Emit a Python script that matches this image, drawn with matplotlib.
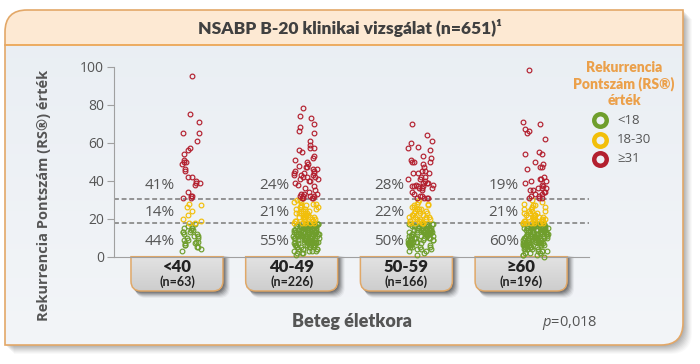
import numpy as np
import matplotlib
matplotlib.use("Agg")
import matplotlib.pyplot as plt
from matplotlib.path import Path
from matplotlib.patches import PathPatch

# ---------------- data ----------------
categories = ["<40", "40-49", "50-59", "≥60"]
n_labels = ["(n=63)", "(n=226)", "(n=166)", "(n=196)"]
pct_high = ["41%", "24%", "28%", "19%"]
pct_mid = ["14%", "21%", "22%", "21%"]
pct_low = ["44%", "55%", "50%", "60%"]

green_lt40 = [17, 16, 16, 15, 15, 14, 14, 13, 13, 13, 12, 12, 11, 11, 10, 10, 9, 9,
              8, 8, 7, 7, 6, 6, 5, 5, 4, 3]
yellow_lt40 = [28, 27, 26, 24, 22, 20, 19, 18, 18]
red_lt40 = [95, 75, 71, 65, 65, 61, 57, 56, 54, 51, 50, 50, 49, 46, 45, 42, 42, 40,
            39, 39, 38, 34, 32, 32, 31, 31]

green_40_49 = [17, 17, 17, 17, 17, 17, 17, 17, 17, 16, 16, 16, 16, 16, 16, 16, 16, 16, 16,
               15, 15, 15, 15, 15, 15, 15, 15, 15, 15, 14, 14, 14, 14, 14, 14, 14, 14, 14, 14,
               13, 13, 13, 13, 13, 13, 13, 13, 13, 13, 12, 12, 12, 12, 12, 12, 12, 12, 12,
               11, 11, 11, 11, 11, 11, 11, 11, 11, 10, 10, 10, 10, 10, 10, 10, 10, 10,
               9, 9, 9, 9, 9, 9, 9, 9, 8, 8, 8, 8, 8, 8, 8, 8, 7, 7, 7, 7, 7, 7, 7,
               6, 6, 6, 6, 6, 6, 5, 5, 5, 5, 5, 5, 4, 4, 4, 4, 4, 3, 3, 3, 3, 2, 2, 2, 1]
yellow_40_49 = [30, 30, 29, 29, 28, 28, 27, 27, 26, 26, 26, 25, 25, 25, 24, 24, 24, 24,
                23, 23, 23, 23, 22, 22, 22, 22, 21, 21, 21, 21, 21, 20, 20, 20, 20, 20,
                19, 19, 19, 19, 19, 19, 18, 18, 18, 18, 18]
red_40_49 = [78, 74, 73, 70, 68, 66, 65, 61, 59, 57, 57, 56, 55, 53, 52, 51, 50, 49, 48,
             47, 47, 46, 46, 45, 45, 44, 44, 44, 43, 43, 43, 42, 42, 42, 41, 41, 40, 40,
             39, 38, 37, 36, 35, 34, 33, 33, 33, 32, 32, 32, 32, 31, 31, 31, 31]

green_50_59 = [17, 17, 17, 17, 17, 17, 16, 16, 16, 16, 16, 16, 16, 15, 15, 15, 15, 15, 15, 15,
               14, 14, 14, 14, 14, 14, 14, 13, 13, 13, 13, 13, 13, 13, 12, 12, 12, 12, 12, 12,
               11, 11, 11, 11, 11, 11, 10, 10, 10, 10, 10, 10, 9, 9, 9, 9, 9, 9,
               8, 8, 8, 8, 8, 7, 7, 7, 7, 7, 6, 6, 6, 6, 5, 5, 5, 5, 4, 4, 4, 3, 3, 2, 1]
yellow_50_59 = [30, 29, 28, 28, 27, 27, 26, 26, 25, 25, 25, 24, 24, 24, 23, 23, 23, 22, 22,
                22, 21, 21, 21, 21, 20, 20, 20, 20, 19, 19, 19, 19, 18, 18, 18, 18, 18]
red_50_59 = [70, 64, 61, 60, 58, 57, 56, 53, 52, 51, 50, 50, 50, 49, 47, 45, 45, 44, 44,
             44, 42, 42, 41, 41, 40, 39, 39, 39, 38, 38, 37, 37, 37, 37, 36, 36, 36, 35,
             34, 33, 32, 32, 31, 31, 31, 31]

green_ge60 = [17, 17, 17, 17, 17, 17, 17, 17, 16, 16, 16, 16, 16, 16, 16, 16, 16,
              15, 15, 15, 15, 15, 15, 15, 15, 15, 14, 14, 14, 14, 14, 14, 14, 14, 14,
              13, 13, 13, 13, 13, 13, 13, 13, 13, 12, 12, 12, 12, 12, 12, 12, 12,
              11, 11, 11, 11, 11, 11, 11, 11, 10, 10, 10, 10, 10, 10, 10, 10,
              9, 9, 9, 9, 9, 9, 9, 9, 8, 8, 8, 8, 8, 8, 8, 7, 7, 7, 7, 7, 7, 7,
              6, 6, 6, 6, 6, 6, 5, 5, 5, 5, 5, 5, 4, 4, 4, 4, 4, 3, 3, 3, 3, 2, 2, 2,
              1, 1, 1, 0]
yellow_ge60 = [30, 29, 28, 27, 27, 26, 26, 25, 25, 24, 24, 24, 23, 23, 23, 22, 22, 22, 22,
               21, 21, 21, 21, 20, 20, 20, 20, 20, 19, 19, 19, 19, 19, 19,
               18, 18, 18, 18, 18, 18, 18]
red_ge60 = [98, 71, 70, 67, 66, 65, 62, 55, 54, 54, 50, 49, 47, 47, 46, 42, 41, 41, 40, 40,
            39, 38, 37, 36, 36, 36, 35, 35, 34, 34, 33, 33, 32, 32, 31, 31, 31]

green_groups = [green_lt40, green_40_49, green_50_59, green_ge60]
yellow_groups = [yellow_lt40, yellow_40_49, yellow_50_59, yellow_ge60]
red_groups = [red_lt40, red_40_49, red_50_59, red_ge60]
cut_low, cut_high = 17.5, 30.5

legend_title = "Rekurrencia\nPontszám (RS®)\nérték"
legend_labels = ["<18", "18-30", "≥31"]
title = "NSABP B-20 klinikai vizsgálat (n=651)¹"
xlabel = "Beteg életkora"
ylabel = "Rekurrencia Pontszám (RS®) érték"

# ---------------- style ----------------
GREEN, YELLOW, RED = "#6f9e2c", "#f2bf0a", "#b3202f"
ORANGE = "#eba04a"
TXT = "#555555"
BOLDF = ["Lato", "DejaVu Sans"]
SANS = ["Open Sans", "DejaVu Sans"]
plt.rcParams["mathtext.fontset"] = "custom"
plt.rcParams["mathtext.it"] = "Open Sans:italic"
plt.rcParams["mathtext.rm"] = "Open Sans"

W, H = 700, 364
fig = plt.figure(figsize=(W / 100, H / 100), dpi=100)
fig.patch.set_facecolor("white")
bg = fig.add_axes([0, 0, 1, 1], zorder=0)
bg.set_xlim(0, W)
bg.set_ylim(H, 0)
bg.axis("off")

M, L, C3, CL = Path.MOVETO, Path.LINETO, Path.CURVE3, Path.CLOSEPOLY


def leaf_path(x0, y0, x1, y1, r, bottom_round=True):
    verts = [(x0, y0 + r), (x0, y0), (x0 + r, y0), (x1, y0)]
    codes = [M, C3, C3, L]
    if bottom_round:
        verts += [(x1, y1 - r), (x1, y1), (x1 - r, y1)]
        codes += [L, C3, C3]
    else:
        verts += [(x1, y1)]
        codes += [L]
    verts += [(x0, y1), (x0, y0 + r)]
    codes += [L, CL]
    return Path(verts, codes)


def box_path(x0, y0, x1, y1, r):
    verts = [(x0, y0), (x1, y0), (x1, y1 - r), (x1, y1), (x1 - r, y1),
             (x0 + r, y1), (x0, y1), (x0, y1 - r), (x0, y0)]
    codes = [M, L, L, C3, C3, L, C3, C3, CL]
    return Path(verts, codes)


fx0, fy0, fx1, fy1, fr = 5, 10, 683, 345, 22
for k, a in zip(range(9, 0, -1), np.linspace(0.03, 0.10, 9)):
    p = leaf_path(fx0 + k, fy0 + k, fx1 + k, fy1 + k, fr)
    bg.add_patch(PathPatch(p, facecolor="#555555", edgecolor="none", alpha=a))
frame = PathPatch(leaf_path(fx0, fy0, fx1, fy1, fr), facecolor="#edf1f5",
                  edgecolor="none")
bg.add_patch(frame)
grad = np.linspace(0, 1, 256).reshape(-1, 1)
cmap_bg = matplotlib.colors.LinearSegmentedColormap.from_list("b", ["#e9eef3", "#f3f5f8"])
im = bg.imshow(grad, extent=(fx0, fx1, fy1, fy0), cmap=cmap_bg, aspect="auto", zorder=1)
im.set_clip_path(frame)
tb = PathPatch(leaf_path(fx0, fy0, fx1, 45, fr, bottom_round=False), facecolor="#fde9d3",
               edgecolor="none", zorder=2)
bg.add_patch(tb)
bg.plot([fx0, fx1], [45, 45], color=ORANGE, lw=1.2, zorder=3)
bg.add_patch(PathPatch(leaf_path(fx0, fy0, fx1, fy1, fr), facecolor="none",
                       edgecolor="#e3a868", lw=1.2, zorder=4))
bg.text(350, 28, title, ha="center", va="center", fontsize=12.5, fontweight="heavy",
        color="#404040", family=BOLDF, zorder=5)

# ---------------- main axes ----------------
ax_l, ax_r, ax_b, ax_t = 114, 589, 256.7, 66.7
ax = fig.add_axes([ax_l / W, 1 - ax_b / H, (ax_r - ax_l) / W, (ax_b - ax_t) / H], zorder=2)
ax.patch.set_visible(False)
ax.set_ylim(0, 100)
ax.set_xlim(-0.549, 3.592)
for s in ["top", "right"]:
    ax.spines[s].set_visible(False)
ax.spines["left"].set_color("#a0a0a0")
ax.spines["bottom"].set_color("#a0a0a0")
ax.set_yticks([0, 20, 40, 60, 80, 100])
ax.set_xticks([])
ax.tick_params(axis="y", direction="out", length=5, color="#a0a0a0", labelsize=10,
               labelcolor=TXT, pad=2)
for t in ax.get_yticklabels():
    t.set_family(SANS)

for yv in (cut_low, cut_high):
    ax.axhline(yv, color="#7a7a7a", lw=1.1, ls=(0, (3.2, 1.8)), zorder=1)


def spread(k, v):
    # deterministic horizontal spread (layout only)
    h = np.sin(k * 12.9898 + v * 78.233) * 43758.5453
    return h - np.floor(h) - 0.5


for i in range(len(categories)):
    width = 0.18 if i == 0 else 0.22
    k0 = 0
    for vals, col in ((green_groups[i], GREEN), (yellow_groups[i], YELLOW),
                      (red_groups[i], RED)):
        v = np.asarray(vals, dtype=float)
        k = np.arange(k0, k0 + len(v)) + 7 * i
        off = spread(k, v) * width
        k0 += len(v)
        ax.plot(i + 0.125 + off, v, ls="none", marker="o", ms=3.4, mfc="none",
                mec=col, mew=0.85, zorder=3, clip_on=False)
    ax.text(i - 0.02, 37.5, pct_high[i], ha="right", va="center", fontsize=11,
            color=TXT, family=SANS)
    ax.text(i - 0.02, 23.5, pct_mid[i], ha="right", va="center", fontsize=11,
            color=TXT, family=SANS)
    ax.text(i - 0.02, 8.0, pct_low[i], ha="right", va="center", fontsize=11,
            color=TXT, family=SANS)

ax.set_ylabel(ylabel, fontsize=10.5, fontweight="bold", color=TXT, family=SANS)
ax.yaxis.set_label_coords(-0.132, 0.325)

# ---------------- category boxes ----------------
fig.canvas.draw()
cmap_box = matplotlib.colors.LinearSegmentedColormap.from_list("g", ["#e3e3e3", "#cdcdcd"])
for i, (cat, nl) in enumerate(zip(categories, n_labels)):
    cx = ax.transData.transform((i, 0))[0]
    bx0, bx1, by0, by1 = cx - 46, cx + 46, 256.7, 291
    for k, a in zip(range(7, 0, -1), np.linspace(0.05, 0.22, 7)):
        bg.add_patch(PathPatch(box_path(bx0 + k * 0.7, by0, bx1 + k, by1 + k, 10),
                               facecolor="#222222", edgecolor="none", alpha=a, zorder=5))
    bp = PathPatch(box_path(bx0, by0, bx1, by1, 10), facecolor="#d6d6d6",
                   edgecolor="none", zorder=6)
    bg.add_patch(bp)
    bim = bg.imshow(grad, extent=(bx0, bx1, by1, by0), cmap=cmap_box, aspect="auto", zorder=6)
    bim.set_clip_path(bp)
    bg.add_patch(PathPatch(box_path(bx0, by0, bx1, by1, 10), facecolor="none",
                           edgecolor="#e0a868", lw=1.1, zorder=7))
    bg.text(cx, 267.5, cat, ha="center", va="center", fontsize=12, fontweight="heavy",
            color="#222222", family=BOLDF, zorder=8)
    bg.text(cx, 281.5, nl, ha="center", va="center", fontsize=9, fontweight="bold",
            color="#222222", family=BOLDF, zorder=8)

bg.set_xlim(0, W)
bg.set_ylim(H, 0)

bg.text(352, 322, xlabel, ha="center", va="center", fontsize=13, fontweight="heavy",
        color=TXT, family=BOLDF, zorder=8)
bg.text(570, 323, r"$p$=0,018", ha="center", va="center", fontsize=10.5,
        color=TXT, family=SANS, zorder=8)

# ---------------- legend ----------------
bg.text(624, 84, legend_title, ha="center", va="center", fontsize=10, fontweight="heavy",
        color=ORANGE, family=BOLDF, linespacing=1.25, zorder=8, multialignment="center")
for lab, col, yy in zip(legend_labels, (GREEN, YELLOW, RED), (120, 139.5, 159)):
    bg.plot([600], [yy], ls="none", marker="o", ms=9, mfc="none", mec=col, mew=3.2, zorder=8)
    bg.text(617, yy, lab, ha="left", va="center", fontsize=9.5, color=TXT, family=SANS,
            zorder=8)

fig.savefig("out.png", dpi=100)
